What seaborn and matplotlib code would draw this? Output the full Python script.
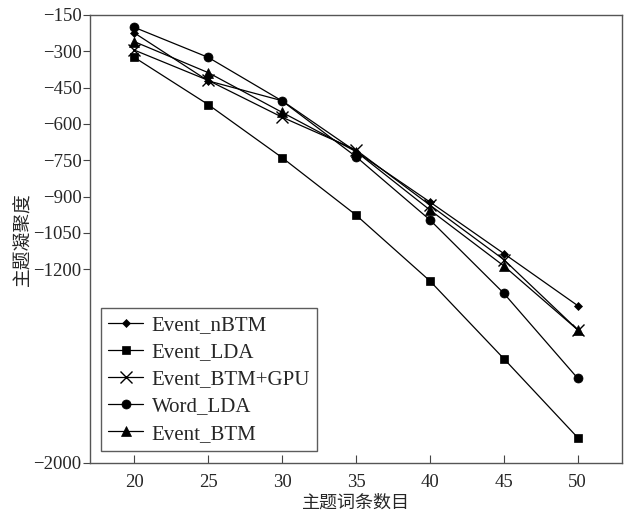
import matplotlib
matplotlib.use("Agg")
import matplotlib.pyplot as plt
import seaborn as sns
import pandas as pd

topics = [20, 25, 30, 35, 40, 45, 50]
event_nbtm = [-224, -422, -504, -714, -922, -1135, -1350]
event_lda = [-325, -520, -739, -976, -1248, -1569, -1895]
event_btm_gpu = [-295, -420, -572, -707, -935, -1160, -1450]
word_lda = [-201, -325, -505, -735, -996, -1299, -1650]
event_btm = [-260, -388, -552, -714, -955, -1186, -1450]

series_names = ["Event_nBTM", "Event_LDA", "Event_BTM+GPU", "Word_LDA", "Event_BTM"]
series_values = [event_nbtm, event_lda, event_btm_gpu, word_lda, event_btm]
y_ticks = [-150, -300, -450, -600, -750, -900, -1050, -1200, -2000]
x_ticks = [20, 25, 30, 35, 40, 45, 50]

sns.set_style("ticks")
plt.rcParams['font.family'] = ['Liberation Serif', 'Noto Sans CJK SC']
plt.rcParams['axes.unicode_minus'] = True

fig = plt.figure(figsize=(6.27, 5.16), dpi=100)
ax = fig.add_axes([90/627, 1-463/516, (622-90)/627, (463-15)/516])

markers = ["D", "s", "x", "o", "^"]
msizes = [4, 6, 8, 6.5, 7.5]
for name, vals, m, ms in zip(series_names, series_values, markers, msizes):
    df = pd.DataFrame({"x": topics, "y": vals})
    sns.lineplot(data=df, x="x", y="y", ax=ax, color="black", marker=m,
                 markersize=ms, linewidth=0.9, markeredgecolor="black",
                 markerfacecolor="black", markeredgewidth=1.0 if m == "x" else 0.5,
                 label=name)

ax.set_xlim(17, 53)
ax.set_ylim(-2000, -150)
ax.set_xticks(x_ticks)
ax.set_yticks(y_ticks)
ax.tick_params(axis='x', direction='in', length=6, labelsize=13.5, pad=8, color='#444444')
ax.tick_params(axis='y', direction='out', length=5, labelsize=13.5, pad=1, color='#444444')
for sp in ax.spines.values():
    sp.set_visible(True)
    sp.set_color('#555555')
    sp.set_linewidth(1.0)

ax.set_xlabel("主题词条数目", fontsize=13, family=['Noto Sans CJK SC'], labelpad=2)
ax.set_ylabel("主题凝聚度", fontsize=13.5, family=['Noto Sans CJK SC'], labelpad=0)

leg = ax.legend(loc='lower left', bbox_to_anchor=(0.02, 0.027), borderaxespad=0,
                fontsize=15, frameon=True, fancybox=False, edgecolor='#333333',
                handlelength=1.7, handletextpad=0.4, labelspacing=0.36,
                borderpad=0.35)
leg.get_frame().set_linewidth(1.0)

fig.savefig("out.png", dpi=100)
